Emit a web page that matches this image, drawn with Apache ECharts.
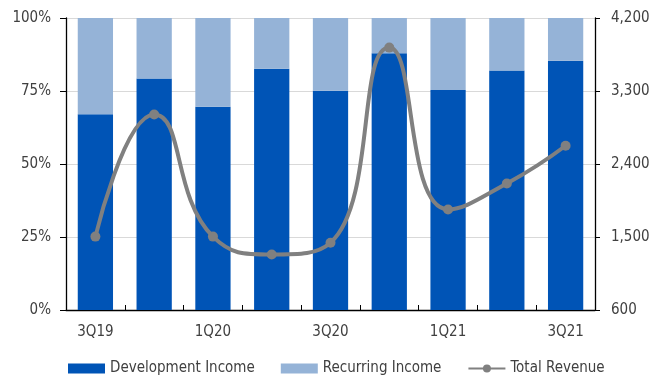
<!DOCTYPE html>
<html><head><meta charset="utf-8">
<script src="https://cdn.jsdelivr.net/npm/echarts@6/dist/echarts.min.js"></script>
<style>html,body{margin:0;padding:0;background:#fff}#c{width:653px;height:378px}</style>
</head><body><div id="c"></div>
<script>
const categories = ['3Q19','4Q19','1Q20','2Q20','3Q20','4Q20','1Q21','2Q21','3Q21'];
const developmentPct = [67, 79.3, 69.6, 82.6, 75.1, 87.9, 75.3, 82.0, 85.4];
const recurringPct = developmentPct.map(v => +(100 - v).toFixed(1));
const totalRevenue = [1505, 3010, 1505, 1285, 1430, 3835, 1840, 2160, 2625];
const leftTicks = {min: 0, max: 100, interval: 25};
const rightTicks = {min: 600, max: 4200, interval: 900};

const font = '"Liberation Sans Narrow", "DejaVu Sans Condensed", "Liberation Sans"';
const txt = '#404040';
const fs = 15;
const chart = echarts.init(document.getElementById('c'), null, {renderer: 'canvas'});
chart.setOption({
  animation: false,
  textStyle: {fontFamily: font},
  grid: {left: 66, right: 58, top: 18, bottom: 68},
  legend: {
    left: 68, top: 361, itemWidth: 37, itemHeight: 10, itemGap: 26, padding: 0,
    textStyle: {fontFamily: font, fontSize: fs, color: txt},
    data: [{name: 'Development Income', icon: 'rect'}, {name: 'Recurring Income', icon: 'rect'}, 'Total Revenue']
  },
  xAxis: {
    type: 'category', data: categories,
    axisLine: {lineStyle: {color: '#000', width: 1.3}},
    axisTick: {show: true, inside: true, interval: 0, length: 5, lineStyle: {color: '#000'}},
    axisLabel: {interval: 1, color: txt, fontSize: fs, margin: 15, fontFamily: font}
  },
  yAxis: [
    {type: 'value', min: leftTicks.min, max: leftTicks.max, interval: leftTicks.interval,
     axisLine: {show: true, lineStyle: {color: '#000', width: 1.3}},
     axisTick: {show: true, length: 6, lineStyle: {color: '#000'}},
     axisLabel: {formatter: '{value}%', color: txt, fontSize: fs, margin: 15, fontFamily: font},
     splitLine: {lineStyle: {color: '#D9D9D9', width: 1}}},
    {type: 'value', min: rightTicks.min, max: rightTicks.max, interval: rightTicks.interval, position: 'right',
     axisLine: {show: true, lineStyle: {color: '#000', width: 1.3}},
     axisTick: {show: true, length: 5, lineStyle: {color: '#000'}},
     axisLabel: {formatter: v => v.toLocaleString('en-US'), color: txt, fontSize: fs, margin: 16, fontFamily: font},
     splitLine: {show: false}}
  ],
  series: [
    {name: 'Development Income', type: 'bar', stack: 'a', barWidth: '60%', data: developmentPct,
     itemStyle: {color: '#0054B6'}},
    {name: 'Recurring Income', type: 'bar', stack: 'a', data: recurringPct,
     itemStyle: {color: '#95B3D7'}},
    {name: 'Total Revenue', type: 'line', yAxisIndex: 1, data: totalRevenue, smooth: 0.5,
     symbol: 'circle', symbolSize: 10,
     lineStyle: {color: '#808080', width: 4}, itemStyle: {color: '#808080'}}
  ]
});
</script></body></html>
